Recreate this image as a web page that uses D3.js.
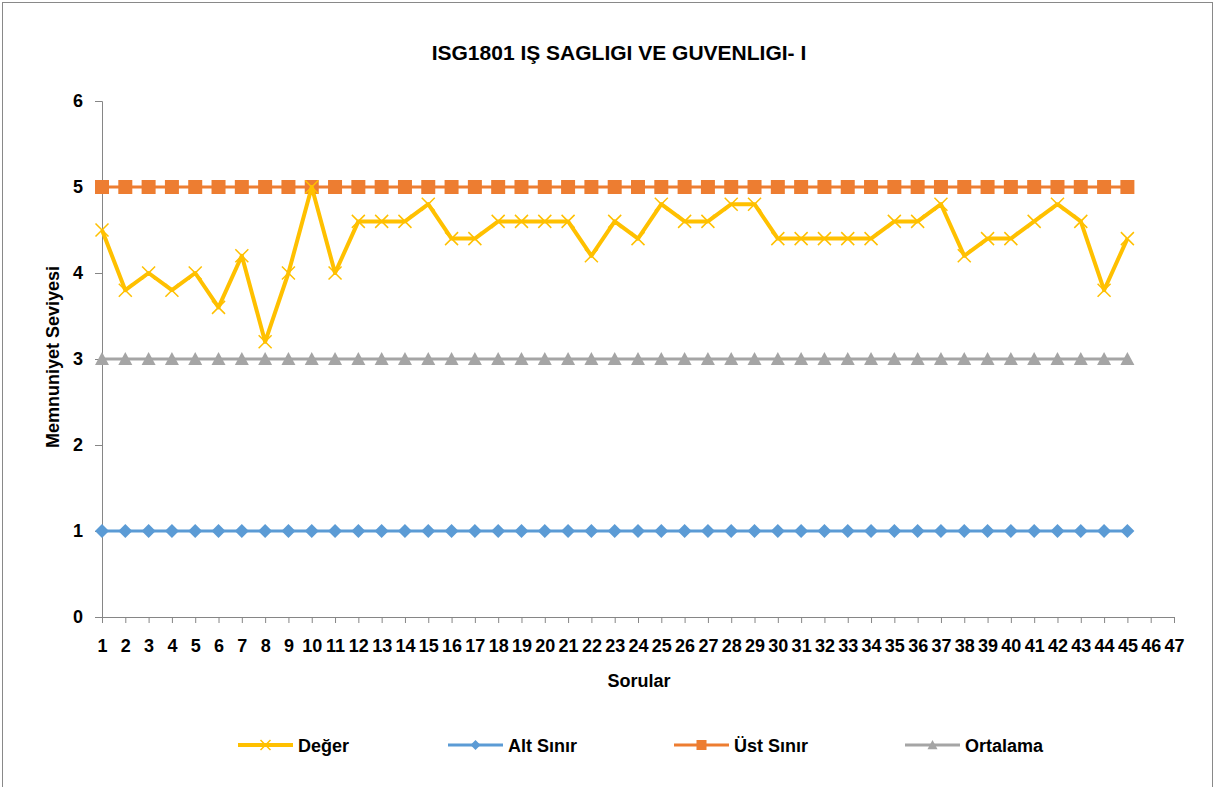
<!DOCTYPE html>
<html>
<head>
<meta charset="utf-8">
<script src="https://cdn.jsdelivr.net/npm/d3@7"></script>
<style>
  body { margin: 0; background: #fff; }
  text { font-family: "Liberation Sans", Arial, sans-serif; font-weight: bold; fill: #000; }
</style>
</head>
<body>
<div id="chart"></div>
<script>
// categories on the x axis (1..47, only 45 have values)
const categories = d3.range(1, 48);
const degerValues = [4.5, 3.8, 4.0, 3.8, 4.0, 3.6, 4.2, 3.2, 4.0, 5.0,
  4.0, 4.6, 4.6, 4.6, 4.8, 4.4, 4.4, 4.6, 4.6, 4.6,
  4.6, 4.2, 4.6, 4.4, 4.8, 4.6, 4.6, 4.8, 4.8, 4.4,
  4.4, 4.4, 4.4, 4.4, 4.6, 4.6, 4.8, 4.2, 4.4, 4.4,
  4.6, 4.8, 4.6, 3.8, 4.4];
const altSinir = d3.range(45).map(() => 1);
const ustSinir = d3.range(45).map(() => 5);
const ortalama = d3.range(45).map(() => 3);
const yTicks = [0, 1, 2, 3, 4, 5, 6];

const W = 1215, H = 787;
const m = {left: 102, right: W - 1174, top: 101, bottom: H - 617};

const svg = d3.select('#chart').append('svg')
  .attr('width', W).attr('height', H);

svg.append('rect')
  .attr('x', 2.5).attr('y', 2.5)
  .attr('width', W - 5).attr('height', H + 20)
  .attr('fill', '#fff').attr('stroke', '#898989').attr('stroke-width', 1);

const x = d3.scalePoint().domain(categories).range([m.left, W - m.right]);
const y = d3.scaleLinear().domain([0, 6]).range([H - m.bottom, m.top]);

// axes
const yAxis = svg.append('g')
  .attr('transform', `translate(${m.left},0)`)
  .call(d3.axisLeft(y).tickValues(yTicks).tickFormat(d3.format('d')).tickSize(7).tickPadding(12));
const xAxis = svg.append('g')
  .attr('transform', `translate(0,${H - m.bottom})`)
  .call(d3.axisBottom(x).tickSize(6).tickPadding(16));
[yAxis, xAxis].forEach(a => {
  a.select('.domain').attr('stroke', '#868686');
  a.selectAll('.tick line').attr('stroke', '#868686');
  a.selectAll('.tick text').style('font-size', '18px').attr('fill', '#000');
});

const series = [
  {name: 'Değer', values: degerValues, color: '#FFC000', width: 4, marker: 'x'},
  {name: 'Alt Sınır', values: altSinir, color: '#5B9BD5', width: 3, marker: 'diamond'},
  {name: 'Üst Sınır', values: ustSinir, color: '#ED7D31', width: 3, marker: 'square'},
  {name: 'Ortalama', values: ortalama, color: '#A5A5A5', width: 3, marker: 'triangle'}
];

const drawOrder = [1, 3, 2, 0];
const line = d3.line().x((d, i) => x(categories[i])).y(d => y(d));

function marker(g, type, color, r) {
  if (type === 'x') {
    g.append('path').attr('d', `M${-r},${-r}L${r},${r}M${-r},${r}L${r},${-r}`)
      .attr('stroke', color).attr('stroke-width', 1.5).attr('fill', 'none');
  } else if (type === 'diamond') {
    g.append('path').attr('d', `M0,${-r}L${r},0L0,${r}L${-r},0Z`).attr('fill', color);
  } else if (type === 'square') {
    g.append('rect').attr('x', -r).attr('y', -r).attr('width', 2 * r).attr('height', 2 * r).attr('fill', color);
  } else {
    g.append('path').attr('d', `M0,${-r}L${r},${r * 0.85}L${-r},${r * 0.85}Z`).attr('fill', color);
  }
}

drawOrder.forEach(k => {
  const s = series[k];
  const g = svg.append('g');
  g.append('path').attr('d', line(s.values))
    .attr('fill', 'none').attr('stroke', s.color)
    .attr('stroke-width', s.width).attr('stroke-linejoin', 'round');
  s.values.forEach((v, i) => {
    const mg = g.append('g').attr('transform', `translate(${x(categories[i])},${y(v)})`);
    marker(mg, s.marker, s.color, s.marker === 'x' ? 6.5 : 7);
  });
});

// titles
svg.append('text').attr('x', 619).attr('y', 60)
  .attr('text-anchor', 'middle').style('font-size', '21px')
  .text('ISG1801 IŞ SAGLIGI VE GUVENLIGI- I');
svg.append('text').attr('transform', 'translate(59,357) rotate(-90)')
  .attr('text-anchor', 'middle').style('font-size', '18px')
  .text('Memnuniyet Seviyesi');
svg.append('text').attr('x', 639).attr('y', 687)
  .attr('text-anchor', 'middle').style('font-size', '18px')
  .text('Sorular');

// legend
const legendX = [238, 448, 674, 905];
const legend = svg.append('g');
series.forEach((s, i) => {
  const lg = legend.append('g').attr('transform', `translate(${legendX[i]},745)`);
  lg.append('line').attr('x1', 0).attr('x2', 55).attr('y1', 0).attr('y2', 0)
    .attr('stroke', s.color).attr('stroke-width', s.width);
  const mg = lg.append('g').attr('transform', 'translate(27.5,0)');
  marker(mg, s.marker, s.color, 5);
  lg.append('text').attr('x', 60).attr('y', 6.5).style('font-size', '18px').text(s.name);
});
</script>
</body>
</html>
